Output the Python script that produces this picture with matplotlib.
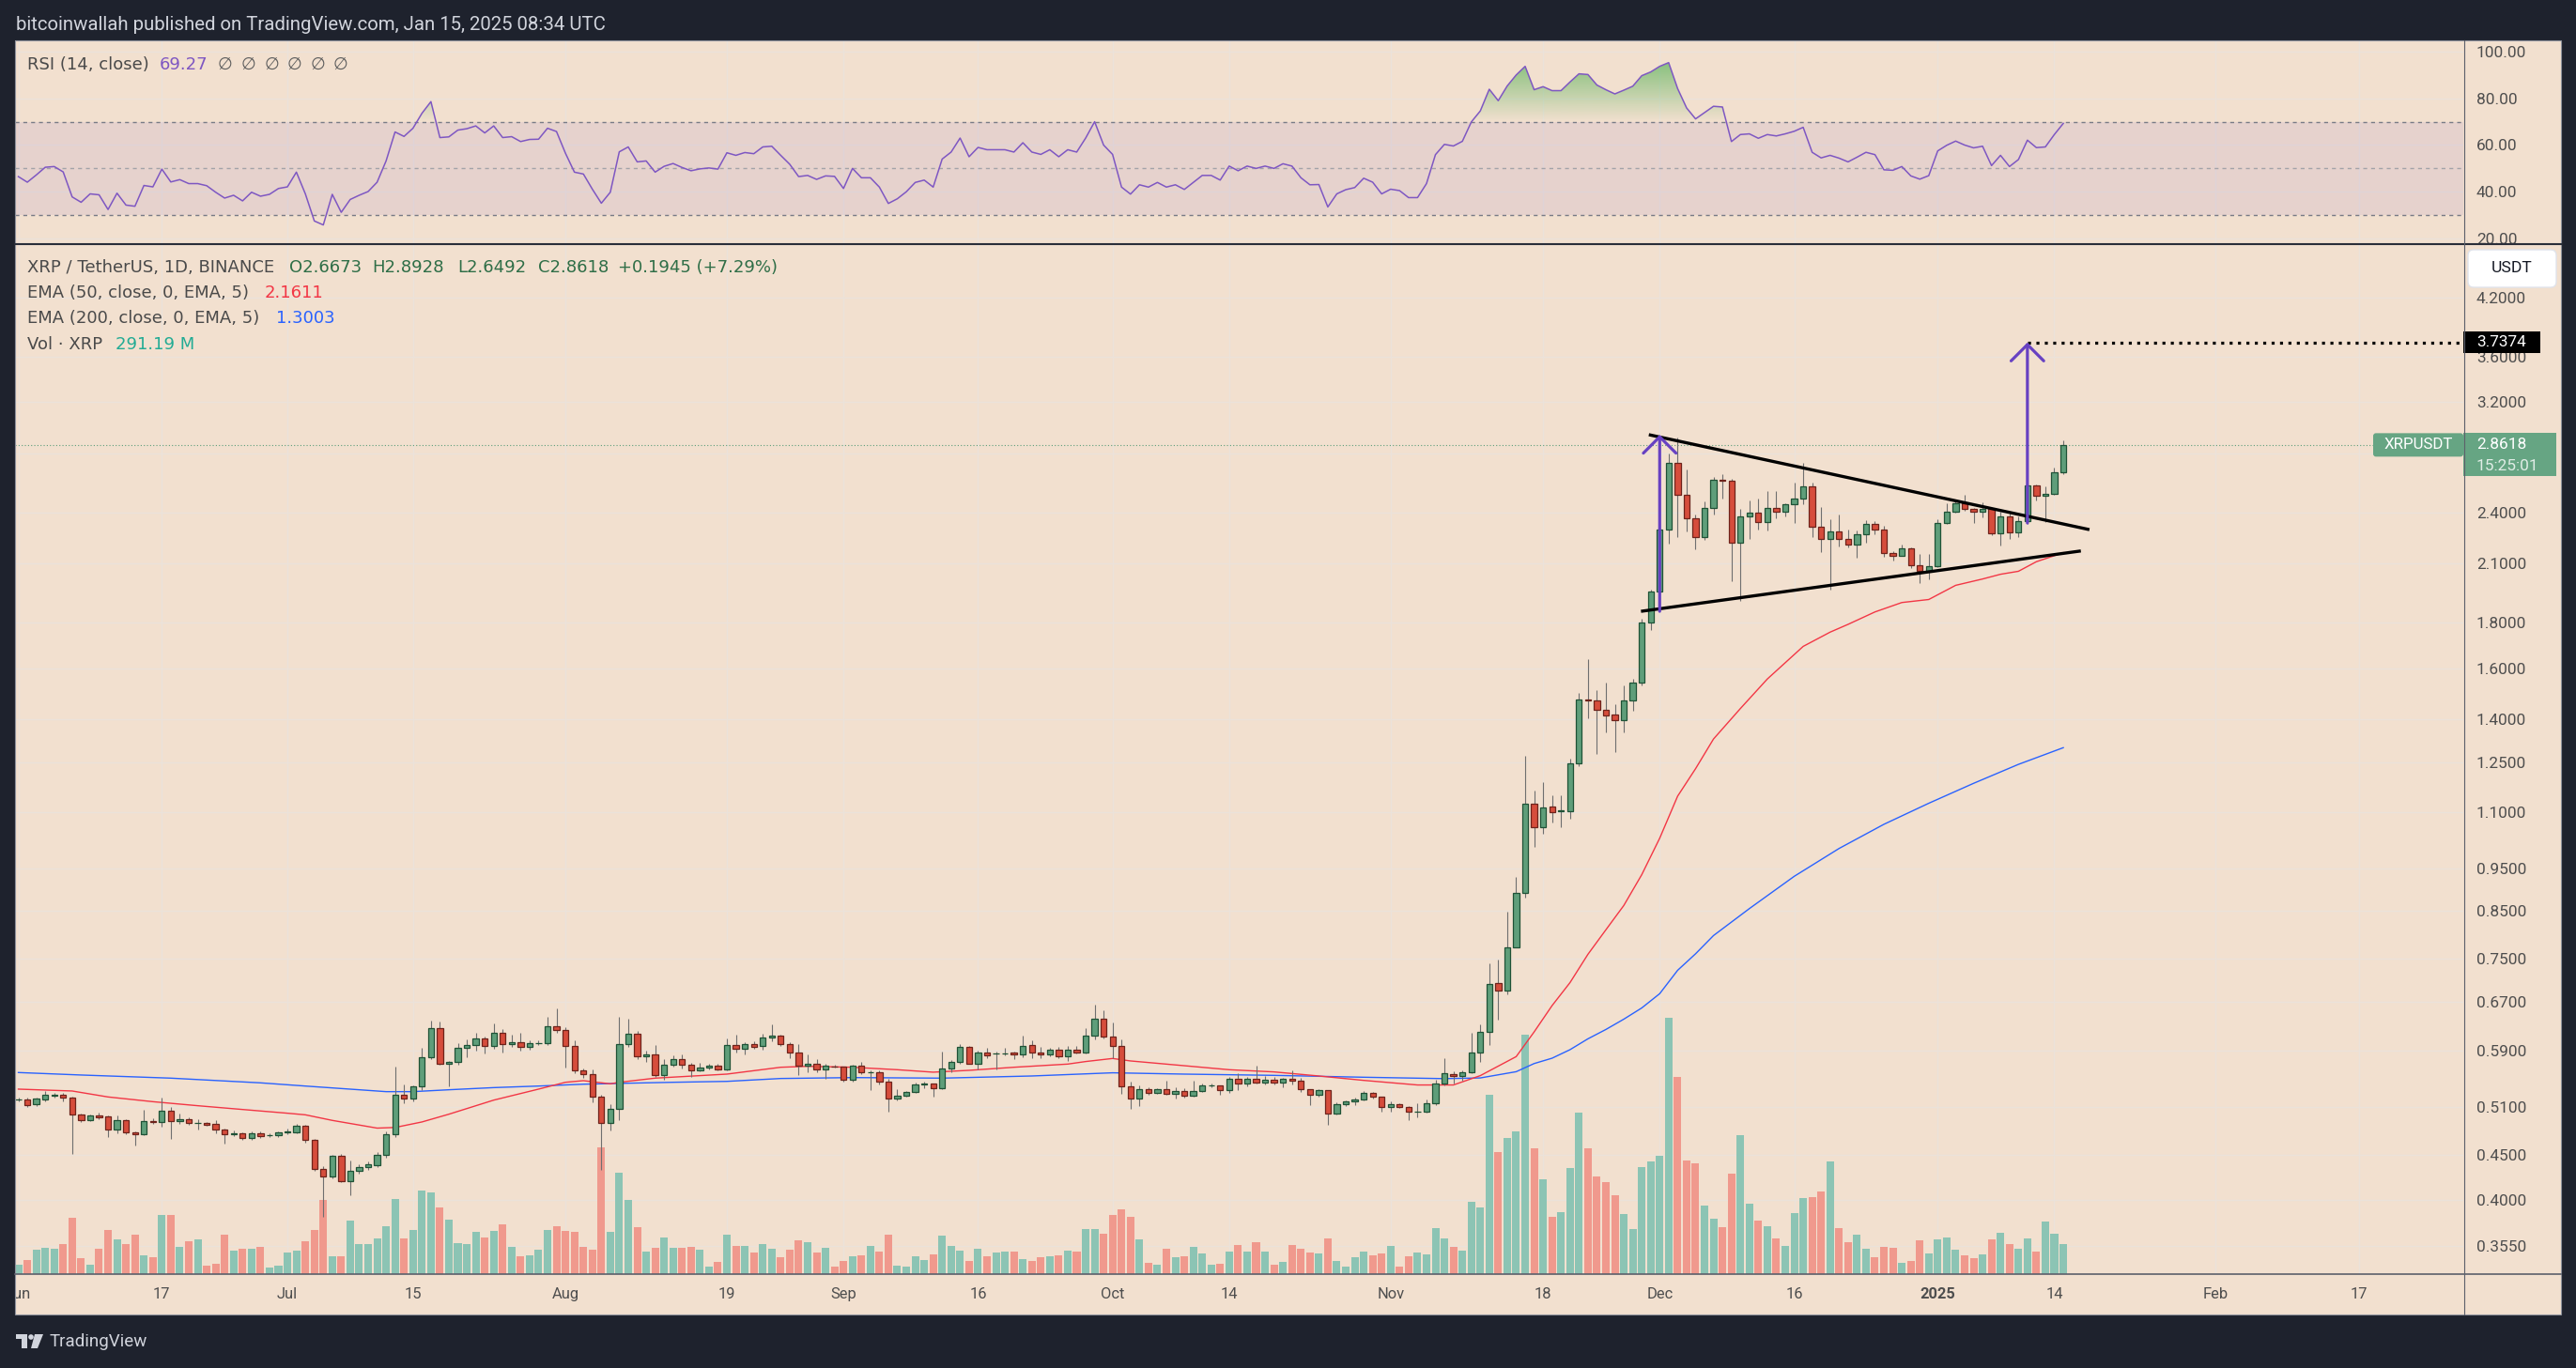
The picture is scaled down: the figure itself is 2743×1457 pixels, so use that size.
import numpy as np
import pandas as pd
import matplotlib
matplotlib.use("Agg")
import matplotlib.pyplot as plt
import matplotlib.dates as mdates
import matplotlib.colors as mcolors
import matplotlib.ticker as mticker
from matplotlib.patches import Rectangle, FancyBboxPatch, PathPatch, Circle, Polygon
from matplotlib.path import Path

plt.rcParams['font.family'] = ['Roboto', 'DejaVu Sans']

# ─────────────────────────────────────────────
# Data (XRPUSDT daily)
# ─────────────────────────────────────────────
dates = pd.date_range("2024-06-01", "2025-01-15", freq="D")

opens = [
    .5195, .5205, .5132, .5204, .5251, .5260, .5221, .5001, .4932, .4988, .4972, .4806, .4924, .4775, .4746,
    .4916, .4901, .5045, .4912, .4936, .4893, .4893, .4877, .4806, .4752, .4758, .4700, .4758, .4737, .4739,
    .4775, .4771, .4854, .4682, .4335, .4251, .4491, .4200, .4314, .4356, .4385, .4499, .4746, .5264, .5208, .5376,
    .5800, .6259, .5702, .5735, .5943, .5987, .6090, .5972, .6180, .6002, .6031, .5958, .6020, .6022, .6289,
    .6225, .5977, .5605, .5560, .5234, .4889, .5070, .6002, .6165, .5815, .5843, .5537, .5690, .5772, .5690, .5605,
    .5648, .5674, .5624, .5992, .5939, .6007, .5982, .6106, .6141, .6002, .5872, .5674, .5702, .5619, .5669,
    .5660, .5470, .5674, .5578, .5578, .5443, .5208, .5247, .5298, .5410, .5416, .5350, .5633, .5730, .5958,
    .5711, .5876, .5855, .5862, .5876, .5853, .5987, .5876, .5853, .5915, .5824, .5915, .5881, .6136, .6417,
    .6121, .5973, .5385, .5217, .5337, .5294, .5337, .5281, .5311, .5247, .5311, .5389, .5389, .5324, .5483, .5416,
    .5483, .5438, .5470, .5438, .5483, .5456, .5337, .5260, .5324, .5017, .5132, .5170, .5196, .5285, .5234,
    .5095, .5132, .5103, .5033, .5033, .5145, .5416, .5559, .5533, .5585, .5883, .6204, .7048, .6900, .7738,
    .8916, 1.1225, 1.0569, 1.1146, 1.1029, 1.1029, 1.2470, 1.4748, 1.4695, 1.4352, 1.4183, 1.3984, 1.4695, 1.5424, 1.8007,
    1.952, 2.295, 2.731, 2.511, 2.362, 2.249, 2.426, 2.611, 2.604, 2.216, 2.373, 2.397, 2.339, 2.426, 2.403, 2.450,
    2.486, 2.567, 2.310, 2.238, 2.282, 2.238, 2.205, 2.266, 2.327, 2.297, 2.157, 2.145, 2.184, 2.093, 2.059,
    2.085, 2.333, 2.403, 2.456, 2.420, 2.403, 2.420, 2.271, 2.373, 2.278, 2.345, 2.577, 2.504, 2.521, 2.6673,
]
highs = [
    .5220, .5221, .5220, .5316, .5294, .5290, .5240, .5017, .5000, .5020, .4985, .4992, .4940, .4790, .5059,
    .4948, .5225, .5095, .5017, .4964, .4940, .4905, .4924, .4820, .4799, .4770, .4780, .4779, .4760, .4780,
    .4818, .4885, .4870, .4690, .4370, .4499, .4510, .4440, .4392, .4420, .4530, .4780, .5666, .5406, .5400, .5948,
    .6392, .6366, .5750, .6017, .6080, .6185, .6120, .6340, .6250, .6150, .6180, .6060, .6060, .6445, .6593,
    .6280, .6060, .5640, .5620, .5260, .5140, .6445, .6424, .6220, .5900, .5990, .5780, .5830, .5850, .5720, .5720,
    .5700, .5700, .6096, .6156, .6030, .6051, .6171, .6324, .6150, .6036, .6012, .5848, .5772, .5700, .5688,
    .5670, .5688, .5730, .5610, .5610, .5492, .5337, .5320, .5438, .5447, .5420, .5891, .5758, .6007, .5980,
    .5910, .5948, .5890, .5948, .5890, .6141, .6061, .5963, .5950, .5963, .5978, .5978, .6262, .6657, .6566,
    .6355, .6086, .5443, .5389, .5363, .5350, .5456, .5367, .5354, .5456, .5416, .5425, .5390, .5510, .5574, .5510,
    .5678, .5524, .5510, .5505, .5610, .5501, .5340, .5337, .5330, .5158, .5183, .5221, .5311, .5302, .5240,
    .5170, .5154, .5110, .5145, .5196, .5470, .5786, .5595, .5610, .6190, .6330, .7416, .7495, .8484, .9281,
    1.2723, 1.1630, 1.1875, 1.1480, 1.1500, 1.2650, 1.5010, 1.6360, 1.5116, 1.5400, 1.4570, 1.5280, 1.5550, 1.8200, 1.9650,
    2.330, 2.796, 2.917, 2.684, 2.390, 2.470, 2.630, 2.652, 2.620, 2.422, 2.474, 2.488, 2.540, 2.537, 2.460, 2.594,
    2.731, 2.592, 2.434, 2.358, 2.387, 2.293, 2.288, 2.350, 2.345, 2.318, 2.170, 2.209, 2.190, 2.152, 2.154,
    2.356, 2.460, 2.478, 2.511, 2.430, 2.464, 2.430, 2.404, 2.398, 2.375, 2.590, 2.583, 2.569, 2.700, 2.8928,
]
lows = [
    .5180, .5095, .5110, .5180, .5230, .5179, .4517, .4901, .4910, .4940, .4720, .4765, .4750, .4614, .4740,
    .4885, .4846, .4697, .4885, .4870, .4814, .4850, .4758, .4633, .4730, .4680, .4680, .4705, .4720, .4720,
    .4750, .4765, .4651, .4320, .3833, .4230, .4190, .4048, .4290, .4330, .4360, .4470, .4720, .5150, .5180, .5330,
    .5780, .5690, .5385, .5690, .5800, .5900, .5860, .5930, .5880, .5960, .5900, .5920, .5990, .5990, .6190,
    .5650, .5570, .5500, .5160, .4331, .4800, .4932, .5960, .5780, .5740, .5510, .5470, .5660, .5640, .5520, .5590,
    .5620, .5610, .5610, .5876, .5853, .5939, .5924, .6051, .5978, .5796, .5542, .5587, .5587, .5483, .5646,
    .5447, .5452, .5550, .5333, .5407, .5041, .5190, .5234, .5289, .5350, .5243, .5340, .5578, .5711, .5700,
    .5628, .5796, .5628, .5834, .5777, .5805, .5786, .5796, .5824, .5796, .5753, .5860, .5860, .6086, .6101,
    .5786, .5276, .5078, .5116, .5268, .5280, .5270, .5213, .5221, .5240, .5300, .5363, .5268, .5294, .5328, .5385,
    .5416, .5407, .5407, .5367, .5407, .5307, .5124, .5243, .4872, .5000, .5116, .5128, .5183, .5213, .5041,
    .5041, .5086, .4928, .4964, .5020, .5130, .5400, .5420, .5460, .5570, .5740, .5988, .6398, .6844, .7725,
    .8801, 1.0046, 1.0400, 1.0706, 1.0569, 1.0810, 1.2400, 1.4030, 1.2798, 1.3545, 1.2870, 1.3540, 1.4320, 1.5280, 1.7680,
    1.940, 2.211, 2.253, 2.284, 2.182, 2.233, 2.389, 2.488, 2.006, 1.906, 2.242, 2.293, 2.288, 2.362, 2.375, 2.337,
    2.450, 2.253, 2.166, 1.964, 2.198, 2.190, 2.135, 2.218, 2.269, 2.138, 2.119, 2.142, 2.076, 1.998, 2.018,
    2.080, 2.330, 2.401, 2.410, 2.333, 2.371, 2.262, 2.202, 2.242, 2.253, 2.331, 2.478, 2.341, 2.510, 2.6492,
]
closes = [
    .5205, .5128, .5208, .5260, .5260, .5221, .4996, .4924, .4984, .4968, .4806, .4924, .4771, .4746, .4912,
    .4901, .5045, .4912, .4936, .4889, .4896, .4865, .4806, .4746, .4756, .4700, .4758, .4723, .4741, .4771,
    .4781, .4854, .4678, .4335, .4251, .4491, .4200, .4314, .4356, .4392, .4499, .4746, .5264, .5208, .5376, .5800,
    .6259, .5702, .5735, .5943, .5987, .6090, .5972, .6180, .6002, .6031, .5958, .6017, .6024, .6289, .6225,
    .5977, .5605, .5560, .5234, .4889, .5070, .6002, .6165, .5815, .5843, .5537, .5690, .5772, .5690, .5605, .5648,
    .5676, .5628, .5992, .5939, .6007, .5968, .6106, .6141, .6002, .5872, .5674, .5702, .5619, .5674, .5664,
    .5470, .5674, .5578, .5583, .5443, .5208, .5247, .5298, .5402, .5420, .5350, .5633, .5730, .5958, .5711,
    .5872, .5839, .5860, .5868, .5853, .5978, .5872, .5853, .5915, .5824, .5915, .5881, .6136, .6417, .6121,
    .5973, .5385, .5217, .5337, .5294, .5337, .5281, .5311, .5247, .5311, .5389, .5393, .5324, .5483, .5416, .5483,
    .5438, .5470, .5438, .5483, .5456, .5337, .5260, .5324, .5017, .5132, .5170, .5196, .5285, .5234, .5095,
    .5132, .5103, .5033, .5037, .5145, .5416, .5564, .5533, .5585, .5883, .6204, .7032, .6900, .7738, .8916,
    1.1225, 1.0569, 1.1133, 1.1002, 1.1040, 1.2470, 1.4748, 1.4713, 1.4352, 1.4150, 1.3984, 1.4695, 1.5424, 1.8007, 1.9512,
    2.295, 2.731, 2.511, 2.362, 2.249, 2.426, 2.611, 2.604, 2.216, 2.373, 2.397, 2.339, 2.426, 2.403, 2.450, 2.486,
    2.567, 2.310, 2.238, 2.282, 2.238, 2.205, 2.266, 2.327, 2.297, 2.157, 2.145, 2.184, 2.093, 2.059, 2.085,
    2.333, 2.403, 2.456, 2.420, 2.403, 2.420, 2.271, 2.373, 2.278, 2.345, 2.577, 2.504, 2.521, 2.6673, 2.8618,
]
# volume in millions of XRP
volumes = [
    91, 136, 236, 255, 245, 291, 545, 155, 91, 245, 427, 336, 291, 382, 182, 164, 573, 573, 264, 318,
    336, 82, 100, 382, 227, 245, 245, 264, 64, 82,
    209, 227, 318, 427, 718, 173, 173, 518, 291, 291, 345, 464, 727, 345, 427, 809, 791, 645, 527, 300,
    291, 409, 355, 418, 482, 264, 173, 182, 236, 427, 464,
    418, 409, 264, 236, 1227, 409, 982, 718, 455, 218, 255, 355, 255, 255, 264, 236, 73, 118, 382, 273,
    273, 209, 291, 245, 164, 236, 327, 309, 209, 255, 73,
    127, 173, 182, 273, 218, 382, 82, 73, 173, 136, 191, 373, 273, 227, 127, 245, 173, 209, 218, 218,
    145, 127, 164, 173, 182, 227, 218, 436, 436, 391,
    573, 627, 555, 336, 109, 91, 245, 164, 173, 264, 200, 91, 100, 218, 282, 218, 309, 218, 91, 118,
    282, 245, 209, 200, 345, 127, 73, 164, 218, 182, 200,
    277, 75, 171, 211, 193, 448, 347, 264, 228, 703, 646, 1740, 1182, 1318, 1384, 2320, 1221, 918, 554, 602,
    1028, 1564, 1221, 945, 892, 765, 584, 435, 1037, 1094,
    1147, 2487, 1911, 1102, 1073, 664, 537, 455, 974, 1347, 682, 519, 464, 346, 273, 591, 737, 746, 801, 1092,
    446, 309, 382, 246, 164, 264, 255, 109, 127, 328, 200,
    337, 355, 237, 182, 155, 191, 337, 400, 291, 246, 346, 218, 510, 391, 291.19,
]
rsi_values = [
    46.5, 44.1, 47.2, 50.5, 50.8, 48.5, 37.8, 35.5, 39.1, 38.7, 32.4, 39.4, 34.3, 33.8, 42.7,
    42.1, 49.7, 44.2, 45.2, 43.5, 43.5, 42.6, 39.8, 37.3, 38.5, 36.1, 39.8, 38.1, 38.9, 41.4,
    42.1, 48.4, 39.1, 27.5, 25.8, 38.9, 31.2, 36.7, 38.5, 40.1, 44.1, 53.2, 65.6, 63.7, 67.2, 73.6,
    78.6, 63.2, 63.5, 66.4, 67.0, 68.2, 65.2, 68.2, 63.2, 63.6, 61.5, 62.4, 62.5, 67.2, 65.8,
    56.5, 48.4, 47.6, 41.1, 35.1, 39.8, 57.1, 59.2, 52.8, 53.2, 48.4, 50.9, 52.1, 50.4, 49.0, 49.8,
    50.2, 49.7, 56.7, 55.6, 56.8, 56.3, 59.2, 59.5, 55.6, 51.8, 46.5, 47.0, 45.3, 46.8, 46.6,
    41.4, 50, 46, 46, 42, 35, 37, 40, 44, 45, 42, 54, 57, 63, 55,
    59, 58, 58, 58, 57, 61, 57, 56, 58, 55, 58, 57, 63, 70, 60,
    56, 42, 39, 43, 42, 44, 42, 43, 41, 44, 47, 47, 45, 51, 49, 51,
    50, 51, 50, 52, 51, 46, 43, 43.1, 33.5, 39.1, 40.9, 41.8, 45.8, 44.1, 39.1,
    41.1, 40.5, 37.5, 37.5, 43.5, 55.9, 60.3, 59.6, 61.6, 69.9, 74.6, 83.9, 79.0, 85.3, 90.0,
    93.7, 83.7, 85.0, 83.3, 83.3, 87.0, 90.5, 90.2, 85.7, 83.7, 81.9, 83.5, 85.2, 89.7, 91.3,
    93.7, 95.3, 84.2, 75.9, 71.2, 73.9, 76.6, 76.3, 61.5, 64.5, 64.8, 62.9, 64.5, 63.9, 64.8, 65.9,
    67.6, 56.9, 54.5, 55.6, 54.4, 52.8, 54.8, 56.9, 55.9, 49.4, 49.2, 50.8, 46.8, 45.4, 46.9,
    57.5, 59.9, 61.7, 60.0, 58.8, 59.5, 51.2, 55.6, 50.8, 53.8, 62.1, 58.9, 59.2, 64.5, 69.27,
]

ema50_dates = [
    "2024-06-01", "2024-06-07", "2024-06-11", "2024-06-16", "2024-06-21", "2024-06-26", "2024-07-01",
    "2024-07-03", "2024-07-06", "2024-07-11", "2024-07-13", "2024-07-16", "2024-07-19", "2024-07-24",
    "2024-07-29", "2024-08-01", "2024-08-03", "2024-08-06", "2024-08-07", "2024-08-11", "2024-08-19",
    "2024-08-25", "2024-08-28", "2024-09-02", "2024-09-07", "2024-09-11", "2024-09-15", "2024-09-20",
    "2024-09-26", "2024-09-28", "2024-10-01", "2024-10-03", "2024-10-09", "2024-10-14", "2024-10-19",
    "2024-10-24", "2024-10-29", "2024-11-04", "2024-11-08", "2024-11-11", "2024-11-15", "2024-11-17",
    "2024-11-19", "2024-11-21", "2024-11-23", "2024-11-25", "2024-11-27", "2024-11-29", "2024-12-01",
    "2024-12-03", "2024-12-05", "2024-12-07", "2024-12-10", "2024-12-13", "2024-12-17", "2024-12-20",
    "2024-12-22", "2024-12-25", "2024-12-28", "2024-12-31", "2025-01-03", "2025-01-06", "2025-01-08",
    "2025-01-10", "2025-01-12", "2025-01-15",
]
ema50_values = [
    .5342, .5316, .5234, .5170, .5116, .5066, .5017, .4996, .4924, .4826, .4834, .4904, .5004, .5191,
    .5342, .5438, .5461, .5416, .5438, .5497, .5555, .5655, .5669, .5655, .5619, .5583, .5610, .5655,
    .5702, .5740, .5786, .5749, .5678, .5619, .5587, .5528, .5465, .5400, .5400, .5533, .5814, .620,
    .664, .705, .759, .809, .862, .934, 1.027, 1.146, 1.231, 1.330, 1.440, 1.555, 1.693, 1.757,
    1.793, 1.852, 1.898, 1.913, 1.985, 2.018, 2.043, 2.059, 2.111, 2.1611,
]
ema200_dates = [
    "2024-06-01", "2024-06-08", "2024-06-18", "2024-06-28", "2024-07-03", "2024-07-09", "2024-07-12",
    "2024-07-15", "2024-07-19", "2024-07-24", "2024-07-29", "2024-08-03", "2024-08-08", "2024-08-13",
    "2024-08-19", "2024-08-25", "2024-09-02", "2024-09-12", "2024-09-22", "2024-10-01", "2024-10-09",
    "2024-10-19", "2024-10-29", "2024-11-07", "2024-11-11", "2024-11-15", "2024-11-17", "2024-11-19",
    "2024-11-21", "2024-11-23", "2024-11-25", "2024-11-27", "2024-11-29", "2024-12-01", "2024-12-03",
    "2024-12-05", "2024-12-07", "2024-12-11", "2024-12-16", "2024-12-21", "2024-12-26", "2024-12-31",
    "2025-01-05", "2025-01-10", "2025-01-15",
]
ema200_values = [
    .5578, .5542, .5497, .5430, .5385, .5333, .5307, .5307, .5333, .5363, .5385, .5411, .5425, .5438,
    .5451, .5492, .5505, .5497, .5528, .5574, .5555, .5537, .5510, .5490, .5500, .5590, .5710, .5790,
    .5920, .6090, .6240, .6410, .6600, .6850, .7280, .7600, .7970, .855, .930, 1.000, 1.065, 1.125,
    1.185, 1.245, 1.3003,
]

price_ticks = [0.355, 0.40, 0.45, 0.51, 0.59, 0.67, 0.75, 0.85, 0.95, 1.10, 1.25, 1.40, 1.60, 1.80,
               2.10, 2.40, 2.80, 3.20, 3.60, 4.20]
rsi_ticks = [20, 40, 60, 80, 100]
time_ticks = ["2024-06-01", "2024-06-17", "2024-07-01", "2024-07-15", "2024-08-01", "2024-08-19",
              "2024-09-01", "2024-09-16", "2024-10-01", "2024-10-14", "2024-11-01", "2024-11-18",
              "2024-12-01", "2024-12-16", "2025-01-01", "2025-01-14", "2025-02-01", "2025-02-17"]
time_labels = ["Jun", "17", "Jul", "15", "Aug", "19", "Sep", "16", "Oct", "14", "Nov", "18",
               "Dec", "16", "2025", "14", "Feb", "17"]

# drawings on the chart
tri_upper_dates = ["2024-11-29 19:00", "2025-01-17 22:00"]
tri_upper_prices = [2.939, 2.295]
tri_lower_dates = ["2024-11-28 22:00", "2025-01-16 23:00"]
tri_lower_prices = [1.855, 2.171]
pole_date = "2024-12-01"
pole_prices = [1.855, 2.939]
target_date = "2025-01-11"
target_prices = [2.335, 3.7374]

for arr in (opens, highs, lows, closes, volumes, rsi_values):
    assert len(arr) == len(dates), len(arr)

# ─────────────────────────────────────────────
# Style
# ─────────────────────────────────────────────
W, H = 2743, 1457
DARK = "#1e222d"
BG = "#f2e0cf"
GRID = "#ebe2da"
AXIS_TXT = "#4e4e4e"
UP, UP_EDGE = "#5f9e7a", "#1f5236"
DN, DN_EDGE = "#d64d3c", "#6e231b"
WICK = "#6f6f6f"
VOL_UP, VOL_DN = "#8cc4b4", "#f0998d"
PURPLE = "#6741c2"
LBL_GREEN = "#66a583"
LEG_FONT = ["DejaVu Sans"]


def rect(x0, y0, x1, y1):
    return [x0 / W, 1 - y1 / H, (x1 - x0) / W, (y1 - y0) / H]


fig = plt.figure(figsize=(W / 100, H / 100), dpi=100, facecolor=DARK)
fig.add_artist(Rectangle((16 / W, 1 - 1400 / H), 2711 / W, 1357 / H,
                         transform=fig.transFigure, color=BG, zorder=-10))

x = mdates.date2num(dates)
o, h, l, c = map(np.array, (opens, highs, lows, closes))
vol = np.array(volumes)
rsi = np.array(rsi_values)
up = c >= o

x_origin = mdates.date2num(pd.Timestamp("2024-07-01"))
xlim = (x_origin - 30.37, x_origin + 242.6)

# main pane: grid layer, volume layer, price layer
axg = fig.add_axes(rect(16, 261, 2623, 1357), zorder=1)
axv = fig.add_axes(rect(16, 261, 2623, 1357), sharex=axg, zorder=2)
ax = fig.add_axes(rect(16, 261, 2623, 1357), sharex=axg, sharey=axg, zorder=3)
axr = fig.add_axes(rect(16, 43, 2623, 259), sharex=axg, zorder=3)

axg.set_facecolor(BG)
axv.patch.set_visible(False)
ax.patch.set_visible(False)
axr.set_facecolor(BG)

axg.set_yscale("log")
axg.set_yticks(price_ticks)
axg.yaxis.set_minor_locator(mticker.NullLocator())
axg.yaxis.set_major_formatter(mticker.FormatStrFormatter("%.4f"))
axg.set_xticks(mdates.date2num(pd.to_datetime(time_ticks)), labels=time_labels)
axg.grid(True, color=GRID, lw=1.0)

# volume
axv.bar(x, vol, width=0.84, color=np.where(up, VOL_UP, VOL_DN), lw=0)
axv.set_ylim(0, 9973)
axv.set_yticks([])

# EMAs
ax.plot(mdates.date2num(pd.to_datetime(ema200_dates)), ema200_values, color="#2962ff", lw=1.0, zorder=2)
ax.plot(mdates.date2num(pd.to_datetime(ema50_dates)), ema50_values, color="#f23645", lw=1.0, zorder=2)

# candles
ax.vlines(x, l, h, color=WICK, lw=0.8, zorder=3)
lo_b, hi_b = np.minimum(o, c), np.maximum(o, c)
ax.bar(x[up], (hi_b - lo_b)[up], bottom=lo_b[up], width=0.66, color=UP, edgecolor=UP_EDGE, lw=0.9, zorder=4)
ax.bar(x[~up], (hi_b - lo_b)[~up], bottom=lo_b[~up], width=0.66, color=DN, edgecolor=DN_EDGE, lw=0.9, zorder=4)

# last price dotted line
ax.axhline(closes[-1], color="#5c9e7a", ls=(0, (1, 2)), lw=0.8, zorder=2)

# symmetrical triangle + measured move
ax.plot(mdates.date2num(pd.to_datetime(tri_upper_dates)), tri_upper_prices, color="black", lw=2.4,
        solid_capstyle="butt", zorder=6)
ax.plot(mdates.date2num(pd.to_datetime(tri_lower_dates)), tri_lower_prices, color="black", lw=2.4,
        solid_capstyle="butt", zorder=6)
for d, (p0, p1) in ((pole_date, pole_prices), (target_date, target_prices)):
    xd = mdates.date2num(pd.Timestamp(d))
    ax.annotate("", xy=(xd, p1), xytext=(xd, p0),
                arrowprops=dict(arrowstyle="->,head_length=0.5,head_width=0.5", color=PURPLE, lw=2.3,
                                shrinkA=0, shrinkB=0, mutation_scale=25), zorder=7)
xt = mdates.date2num(pd.Timestamp(target_date))
ax.plot([xt, xlim[1]], [target_prices[1]] * 2, color="black", lw=2.3, ls=(0, (1, 1.8)), zorder=6)

axg.set_xlim(*xlim)
axg.set_ylim(0.3299, 4.817)

# RSI pane
axr.axhspan(30, 70, color="#7e57c2", alpha=0.1, lw=0, zorder=0.6)
for lvl, col in ((70, "#787b86"), (50, "#a3a3a8"), (30, "#787b86")):
    axr.axhline(lvl, color=col, lw=1.0, ls=(0, (3, 3)), zorder=1)
poly = axr.fill_between(x, 70, rsi, where=rsi > 70, interpolate=True, facecolor="none", edgecolor="none")
clip = PathPatch(Path.make_compound_path(*poly.get_paths()), transform=axr.transData, fc="none", ec="none")
axr.add_patch(clip)
grad = np.zeros((200, 1, 4))
grad[..., :3] = mcolors.to_rgb("#4caf50")
grad[:, 0, 3] = np.linspace(0.75, 0.0, 200)
im = axr.imshow(grad, extent=[x[0], x[-1], 70, 100], origin="upper", aspect="auto", zorder=1.5)
im.set_clip_path(clip)
axr.plot(x, rsi, color="#7e57c2", lw=1.1, zorder=3)
axr.set_yticks(rsi_ticks)
axr.yaxis.set_major_formatter(mticker.FormatStrFormatter("%.2f"))
axr.grid(True, color=GRID, lw=1.0)
axr.set_axisbelow(True)
axr.set_ylim(17.99, 104.82)
axr.set_xlim(*xlim)

# ticks / spines
for a in (axg, axv, ax, axr):
    for s in a.spines.values():
        s.set_visible(False)
axg.tick_params(length=0, labelleft=False, labelbottom=False)
axv.tick_params(length=0, labelleft=False, labelbottom=False)
ax.yaxis.tick_right()
ax.tick_params(axis="y", which="both", length=0, pad=10, labelsize=12.4, labelcolor=AXIS_TXT,
               labelright=True, labelleft=False)
ax.tick_params(axis="x", length=0, pad=10, labelsize=11.9, labelcolor=AXIS_TXT, labelbottom=True)
axr.yaxis.tick_right()
axr.tick_params(axis="y", length=0, pad=10, labelsize=12.4, labelcolor=AXIS_TXT, labelright=True, labelleft=False)
axr.tick_params(axis="x", length=0, labelbottom=False)
for lbl in ax.get_xticklabels():
    if lbl.get_text() == "2025":
        lbl.set_fontweight("bold")

# ─────────────────────────────────────────────
# Overlay: frame, legends, price labels
# ─────────────────────────────────────────────
ov = fig.add_axes([0, 0, 1, 1], zorder=10)
ov.set_xlim(0, W)
ov.set_ylim(H, 0)
ov.axis("off")


def py(p):
    return H - ax.transData.transform((xlim[0], p))[1]


ov.add_patch(Rectangle((2624, 260), 103, 6, fc=BG, ec="none"))
for (x0, y0, x1, y1) in [(0, 0, W, 43), (0, 0, 16, H), (2727, 0, W, H), (0, 1400, W, H)]:
    ov.add_patch(Rectangle((x0, y0), x1 - x0, y1 - y0, fc=DARK, ec="none"))
ov.add_patch(Rectangle((16, 43), 2711, 1357, fc="none", ec="#8f939d", lw=0.8))
ov.plot([16, 2727], [259.5, 259.5], color="#2a2e39", lw=1.5)
ov.plot([16, 2727], [1357, 1357], color="#5d606b", lw=1.2)
ov.plot([2623.5, 2623.5], [43, 1400], color="#5d606b", lw=0.8)

ov.text(17, 26, "bitcoinwallah published on TradingView.com, Jan 15, 2025 08:34 UTC",
        color="#d1d4dc", fontsize=14.7, va="center")

LEG = "#4a4a4a"
FS = 13.0
ov.text(29, 69, "RSI (14, close)", color=LEG, fontsize=FS, va="center", family=LEG_FONT)
ov.text(170, 69, f"{rsi_values[-1]:.2f}", color="#7e57c2", fontsize=FS, va="center", family=LEG_FONT)
for i in range(6):
    ov.text(232 + i * 24.6, 69, "\u2205", color="#5e5e5e", fontsize=FS, va="center", family=LEG_FONT)

OHLC_COL = "#2f6e47"
ov.text(29, 285, "XRP / TetherUS, 1D, BINANCE", color=LEG, fontsize=FS, va="center", family=LEG_FONT)
chg = closes[-1] - closes[-2]
for xp, s in ((308, f"O{opens[-1]:.4f}"), (396, f"H{highs[-1]:.4f}"), (487, f"L{lows[-1]:.4f}"),
              (573, f"C{closes[-1]:.4f}"), (658, f"+{chg:.4f} (+{chg / closes[-2] * 100:.2f}%)")):
    ov.text(xp, 285, s, color=OHLC_COL, fontsize=FS, va="center", family=LEG_FONT)
ov.text(29, 312, "EMA (50, close, 0, EMA, 5)", color=LEG, fontsize=FS, va="center", family=LEG_FONT)
ov.text(282, 312, f"{ema50_values[-1]:.4f}", color="#f23645", fontsize=FS, va="center", family=LEG_FONT)
ov.text(29, 339, "EMA (200, close, 0, EMA, 5)", color=LEG, fontsize=FS, va="center", family=LEG_FONT)
ov.text(294, 339, f"{ema200_values[-1]:.4f}", color="#2962ff", fontsize=FS, va="center", family=LEG_FONT)
ov.text(29, 367, "Vol \u00b7 XRP", color=LEG, fontsize=FS, va="center", family=LEG_FONT)
ov.text(123, 367, f"{volumes[-1]:.2f} M", color="#22ab94", fontsize=FS, va="center", family=LEG_FONT)

# price scale labels
ov.add_patch(FancyBboxPatch((2628, 266), 94, 40, boxstyle="round,pad=0,rounding_size=6",
                            fc="white", ec="#e0e3eb", lw=1))
ov.text(2675, 286, "USDT", color="#131722", fontsize=12.6, ha="center", va="center")

yt = py(target_prices[1])
ov.add_patch(Rectangle((2623, yt - 11.5), 82, 23, fc="black", ec="none"))
ov.text(2637, yt, f"{target_prices[1]:.4f}", color="white", fontsize=12.4, va="center")

yc = py(closes[-1])
ov.add_patch(FancyBboxPatch((2527, yc - 12.5), 96, 25, boxstyle="round,pad=0,rounding_size=3",
                            fc=LBL_GREEN, ec="none"))
ov.text(2575, yc, "XRPUSDT", color="white", fontsize=12.2, ha="center", va="center")
ov.add_patch(Rectangle((2623, yc - 12.5), 99, 46, fc=LBL_GREEN, ec="none"))
ov.text(2637, yc, f"{closes[-1]:.4f}", color="white", fontsize=12.4, va="center")
ov.text(2637, yc + 23, "15:25:01", color="white", alpha=0.8, fontsize=12.4, va="center")

# TradingView logo
LOGO = "#d1d4dc"
ov.add_patch(Rectangle((17, 1421), 12, 5, fc=LOGO, ec="none"))
ov.add_patch(Rectangle((23, 1421), 6, 15, fc=LOGO, ec="none"))
ov.add_patch(Circle((33, 1424), 2.8, fc=LOGO, ec="none"))
ov.add_patch(Polygon([(37, 1421), (46, 1421), (40, 1436), (33, 1436)], closed=True, fc=LOGO, ec="none"))
ov.text(53, 1429, "TradingView", color=LOGO, fontsize=13.5, va="center")

fig.savefig("out.png", dpi=100, facecolor=fig.get_facecolor())
